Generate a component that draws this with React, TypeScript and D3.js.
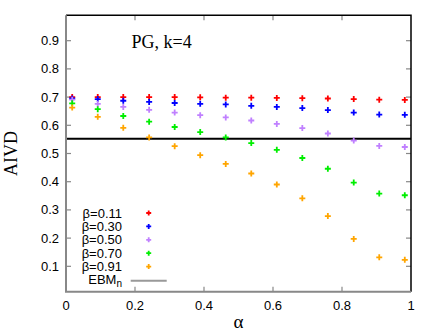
import React from 'react';
import * as d3 from 'd3';

// alpha positions shared by every series
const alphas = [0.018, 0.092, 0.166, 0.241, 0.315, 0.389, 0.463, 0.537, 0.611, 0.685, 0.759, 0.834, 0.908, 0.982];

const beta011 = [0.70, 0.70, 0.70, 0.70, 0.70, 0.699, 0.698, 0.698, 0.697, 0.696, 0.695, 0.693, 0.691, 0.69];
const beta030 = [0.695, 0.693, 0.687, 0.683, 0.679, 0.676, 0.674, 0.669, 0.665, 0.661, 0.654, 0.645, 0.638, 0.637];
const beta050 = [0.691, 0.676, 0.665, 0.655, 0.645, 0.636, 0.628, 0.617, 0.605, 0.59, 0.571, 0.546, 0.527, 0.523];
const beta070 = [0.678, 0.657, 0.633, 0.613, 0.594, 0.576, 0.557, 0.537, 0.513, 0.484, 0.446, 0.397, 0.358, 0.352];
const beta091 = [0.663, 0.63, 0.591, 0.557, 0.526, 0.494, 0.463, 0.429, 0.39, 0.341, 0.278, 0.197, 0.132, 0.123];

const seriesLabels = ['β=0.11', 'β=0.30', 'β=0.50', 'β=0.70', 'β=0.91'];
const seriesColors = ['#ff0000', '#0000ff', '#c080ff', '#00ee00', '#ffa500'];
const seriesValues = [beta011, beta030, beta050, beta070, beta091];

const ebmValue = 0.552;
const yTicks = [0.1, 0.2, 0.3, 0.4, 0.5, 0.6, 0.7, 0.8, 0.9];
const xTicks = [0, 0.2, 0.4, 0.6, 0.8, 1];

const W = 436;
const H = 335;
const left = 66, right = 411, top = 15.3, bottom = 291.7;

const x = d3.scaleLinear().domain([0, 1]).range([left, right]);
const y = d3.scaleLinear().domain([0.01, 0.99]).range([bottom, top]);

const sans = '"Liberation Sans", Arial, sans-serif';
const serif = '"Liberation Serif", "Times New Roman", serif';

function Plus({ cx, cy, color, r = 3 }: { cx: number; cy: number; color: string; r?: number }) {
  return (
    <path d={`M${cx - r},${cy}H${cx + r}M${cx},${cy - r}V${cy + r}`} stroke={color} strokeWidth={1.8} fill="none" />
  );
}

export default function App() {
  const fmtX = (v: number) => (v === 0 || v === 1 ? String(v) : v.toFixed(1));
  const legendX = 122;
  const legendY0 = 217.5;
  const legendStep = 13.4;

  return (
    <svg width={W} height={H} style={{ position: 'absolute', left: 0, top: 0 }}>
      <rect width={W} height={H} fill="#fff" />

      {/* ticks, mirrored on all sides */}
      <g stroke="#888" strokeWidth={1.2}>
        {yTicks.map(t => (
          <g key={'y' + t}>
            <line x1={left} x2={left + 5} y1={y(t)} y2={y(t)} />
            <line x1={right - 5} x2={right} y1={y(t)} y2={y(t)} />
          </g>
        ))}
        {xTicks.slice(1, -1).map(t => (
          <g key={'x' + t}>
            <line x1={x(t)} x2={x(t)} y1={bottom} y2={bottom - 5} />
            <line x1={x(t)} x2={x(t)} y1={top} y2={top + 5} />
          </g>
        ))}
      </g>

      {/* tick labels */}
      <g fontFamily={sans} fontSize={13} fill="#000">
        {yTicks.map(t => (
          <text key={'yl' + t} x={left - 7} y={y(t) + 4.5} textAnchor="end">{t.toFixed(1)}</text>
        ))}
        {xTicks.map(t => (
          <text key={'xl' + t} x={x(t)} y={310} textAnchor="middle">{fmtX(t)}</text>
        ))}
      </g>

      {/* EBM_n reference line */}
      <line x1={left} x2={right} y1={y(ebmValue)} y2={y(ebmValue)} stroke="#000" strokeWidth={2} />

      {/* data points */}
      {seriesValues.map((vals, si) => (
        <g key={'s' + si}>
          {vals.map((v, i) => (
            <Plus key={i} cx={x(alphas[i])} cy={y(v)} color={seriesColors[si]} />
          ))}
        </g>
      ))}

      {/* frame */}
      <path d={`M${left},${top}H${right}V${bottom}`} fill="none" stroke="#000" strokeWidth={1.5} />
      <path d={`M${left},${top}V${bottom}H${right}`} fill="none" stroke="#888" strokeWidth={2} />

      {/* legend */}
      <g fontFamily={sans} fontSize={13} fill="#000">
        {seriesLabels.map((lab, i) => (
          <g key={'lg' + i}>
            <text x={legendX} y={legendY0 + i * legendStep} textAnchor="end">{lab}</text>
            <Plus cx={148.7} cy={legendY0 + i * legendStep - 4.5} color={seriesColors[i]} r={2.5} />
          </g>
        ))}
        <text x={legendX} y={legendY0 + 5 * legendStep - 1} textAnchor="end">
          EBM<tspan fontSize={10} dy={3}>n</tspan>
        </text>
        <line x1={130.7} x2={166.7} y1={280.7} y2={280.7} stroke="#999" strokeWidth={2} />
      </g>

      {/* title and axis labels */}
      <text x={131.5} y={47.7} fontFamily={serif} fontSize={18}>PG, k=4</text>
      <text x={(left + right) / 2} y={328} fontFamily={serif} fontSize={19} textAnchor="middle">α</text>
      <text transform={`translate(17,${(top + bottom) / 2}) rotate(-90)`} fontFamily={serif} fontSize={18} textAnchor="middle">AIVD</text>
    </svg>
  );
}
